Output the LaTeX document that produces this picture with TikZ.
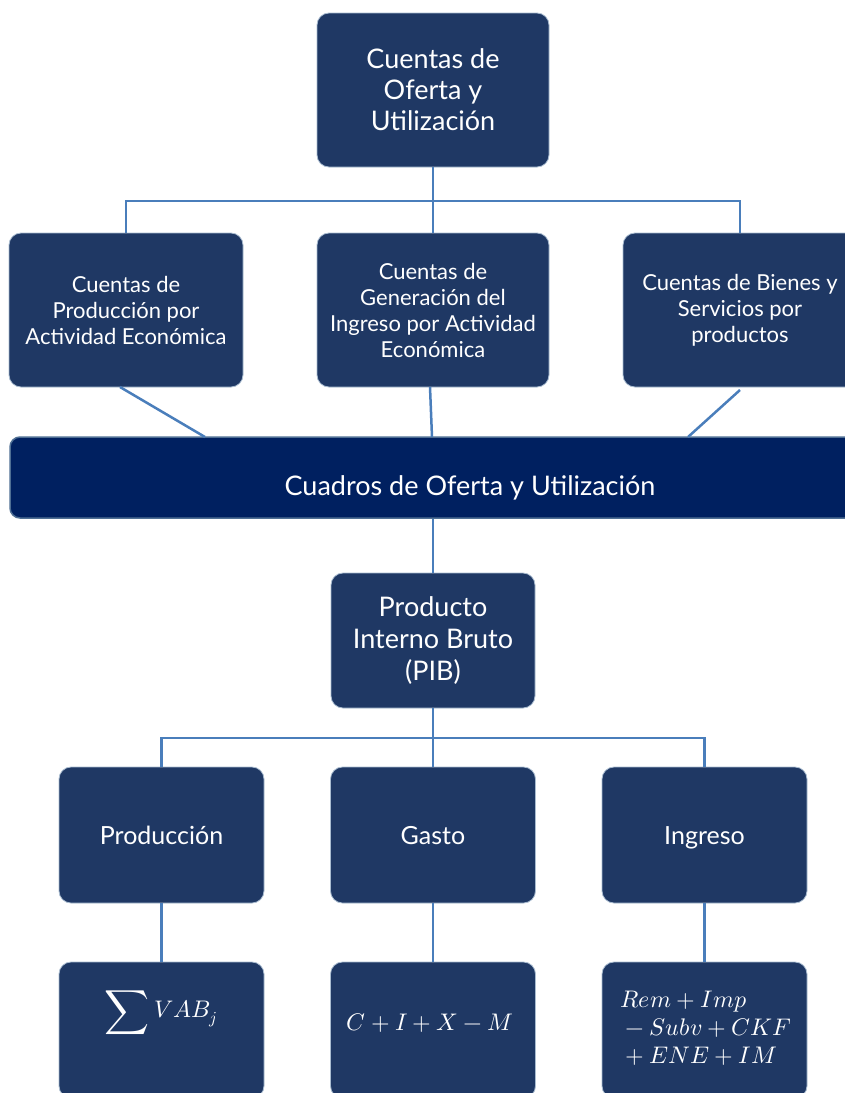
\documentclass[tikz,border=0pt]{standalone}
\usepackage{graphicx}
\usepackage{fontspec}
\usepackage{unicode-math}
\setmainfont{Lato}
\setmathfont{Latin Modern Math}
\usetikzlibrary{positioning,calc}
\definecolor{boxblue}{HTML}{1F3864}
\definecolor{bandblue}{HTML}{002060}
\definecolor{linkblue}{HTML}{4A7EBB}
\definecolor{edgegray}{HTML}{A9BCD0}
\definecolor{bandedge}{HTML}{4F6F94}
\tikzset{
  card/.style={rectangle, rounded corners=12pt, fill=boxblue, draw=edgegray, line width=0.8pt,
    text=white, align=center, inner sep=4pt},
  bigcard/.style={card, minimum width=232pt, minimum height=154pt, font=\fontsize{27}{31}\selectfont},
  midcard/.style={card, minimum width=234pt, minimum height=154pt, font=\fontsize{22}{26}\selectfont},
  pibcard/.style={card, minimum width=204pt, minimum height=135pt, font=\fontsize{27}{32}\selectfont},
  lowcard/.style={card, minimum width=205pt, minimum height=136pt, font=\fontsize{25}{28}\selectfont},
  banner/.style={rectangle, rounded corners=10pt, fill=bandblue, draw=bandedge, line width=1.5pt,
    minimum width=920pt, minimum height=81pt},
  bandtext/.style={text=white, font=\fontsize{27}{30}\selectfont, inner sep=0pt},
  lowtext/.style={text=white, font=\fontsize{25}{28}\selectfont, inner sep=0pt, anchor=base},
  link/.style={draw=linkblue, line width=2.5pt},
  mathtxt/.style={text=white, font=\fontsize{24}{28}\selectfont, align=left, inner sep=0pt}
}
\begin{document}
\begin{tikzpicture}[x=1pt,y=-1pt]
\useasboundingbox (0,0) rectangle (845,1093);
\clip (0,0) rectangle (845,1093);
\fill[white] (0,0) rectangle (845,1093);

\coordinate (j1) at (433,201);
\coordinate (j2) at (433,738);
\coordinate (b1) at (205,437);
\coordinate (b2) at (432,437);
\coordinate (b3) at (688,437);
\coordinate (s1) at (120,387);
\coordinate (s2) at (430,387);
\coordinate (s3) at (740,390);

\node[bigcard] (top) at (433,90) {Cuentas de\\Oferta y\\Utilización};
\node[midcard] (r2a) at (126,310) {Cuentas de\\Producción por\\Actividad Económica};
\node[midcard, minimum width=232pt] (r2b) at (433,310) {Cuentas de\\Generación del\\Ingreso por Actividad\\Económica};
\node[midcard] (r2c) at (740,310) {Cuentas de Bienes y\\Servicios por\\productos};
\node[banner] (band) at (470,477.5) {};
\node[bandtext] (bandlbl) at (470,488) {Cuadros de Oferta y Utilización};
\node[pibcard] (pib) at (433,640.5) {Producto\\Interno Bruto\\(PIB)};
\node[lowcard] (p4a) at (161.5,835) {};
\node[lowcard] (p4b) at (433,835) {};
\node[lowcard] (p4c) at (704.5,835) {};
\node[lowtext] (t4a) at (161.5,844) {Producción};
\node[lowtext] (t4b) at (433,844) {Gasto};
\node[lowtext] (t4c) at (704.5,844) {Ingreso};
\node[lowcard] (p5a) at (161.5,1030) {};
\node[lowcard] (p5b) at (433,1030) {};
\node[lowcard] (p5c) at (704.5,1030) {};

\node[mathtxt] (fa) at (161,1013) {\raisebox{-0.3ex}{\scalebox{1.3}{$\displaystyle\sum$}}$\,VAB_j$};
\node[mathtxt] (fb) at (430,1023) {$C+I+X-M$};
\node[mathtxt, anchor=west] (fc) at (620,1028) {$Rem+Imp$\\${}-Subv+CKF$\\${}+ENE+IM$};

\draw[link] (top.south) -- (r2b.north);
\draw[link] (r2a.north) |- (j1) -| (r2c.north);
\draw[link] (s1) -- (b1);
\draw[link] (s2) -- (b2);
\draw[link] (s3) -- (b3);
\draw[link] (band.south -| pib.north) -- (pib.north);
\draw[link] (pib.south) -- (p4b.north);
\draw[link] (p4a.north) |- (j2) -| (p4c.north);
\draw[link] (p4a.south) -- (p5a.north);
\draw[link] (p4b.south) -- (p5b.north);
\draw[link] (p4c.south) -- (p5c.north);
\end{tikzpicture}
\end{document}
